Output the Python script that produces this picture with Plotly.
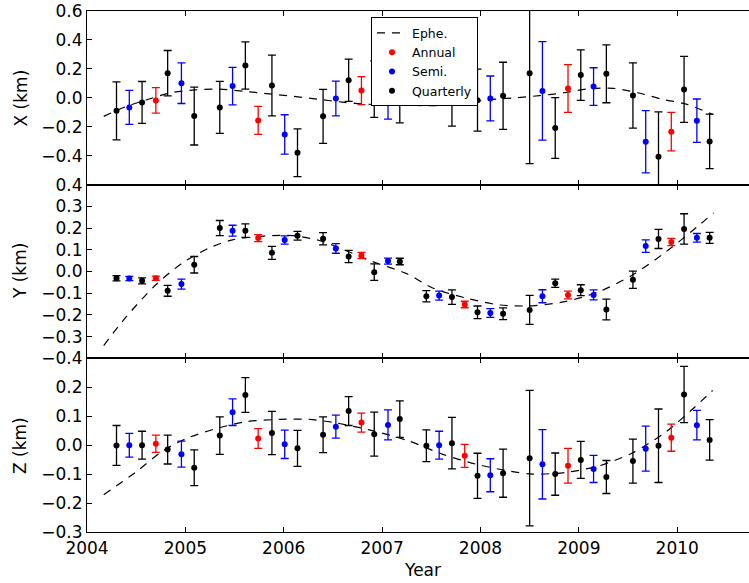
import plotly.graph_objects as go
from plotly.subplots import make_subplots

# ---------------- data ----------------
q_t = [2004.30, 2004.56, 2004.82, 2005.09, 2005.35, 2005.61, 2005.88, 2006.14,
       2006.40, 2006.66, 2006.92, 2007.18, 2007.45, 2007.71, 2007.97, 2008.23,
       2008.50, 2008.76, 2009.02, 2009.28, 2009.55, 2009.81, 2010.07, 2010.33]
s_t = [2004.43, 2004.96, 2005.48, 2006.01, 2006.53, 2007.06,
       2007.58, 2008.10, 2008.63, 2009.15, 2009.68, 2010.20]
a_t = [2004.70, 2005.74, 2006.79, 2007.84, 2008.89, 2009.94]

# X component (km)
x_q = [-0.090, -0.032, 0.170, -0.126, -0.066, 0.223, 0.085, -0.379,
       -0.128, 0.122, 0.060, 0.007, 0.190, 0.070, -0.016, 0.014,
       0.170, -0.209, 0.157, 0.166, 0.016, -0.407, 0.058, -0.301]
x_q_err = [0.200, 0.145, 0.157, 0.200, 0.180, 0.163, 0.210, 0.165,
           0.187, 0.146, 0.195, 0.180, 0.170, 0.265, 0.214, 0.232,
           0.625, 0.210, 0.175, 0.200, 0.225, 0.310, 0.228, 0.188]
x_s = [-0.066, 0.101, 0.081, -0.253, -0.004, -0.004,
       0.120, -0.004, 0.048, 0.078, -0.303, -0.158]
x_s_err = [0.117, 0.140, 0.130, 0.136, 0.120, 0.143,
           0.125, 0.155, 0.340, 0.130, 0.215, 0.150]
x_a = [-0.018, -0.156, 0.050, 0.100, 0.065, -0.234]
x_a_err = [0.088, 0.097, 0.097, 0.090, 0.165, 0.133]

# Y component (km)
y_q = [-0.031, -0.043, -0.089, 0.031, 0.200, 0.188, 0.086, 0.165,
       0.151, 0.069, -0.003, 0.046, -0.114, -0.118, -0.188, -0.195,
       -0.177, -0.054, -0.086, -0.175, -0.038, 0.150, 0.196, 0.155]
y_q_err = [0.012, 0.014, 0.025, 0.038, 0.035, 0.031, 0.030, 0.020,
           0.028, 0.028, 0.038, 0.015, 0.026, 0.033, 0.029, 0.027,
           0.067, 0.019, 0.025, 0.048, 0.040, 0.044, 0.070, 0.025]
y_s = [-0.032, -0.058, 0.188, 0.145, 0.106, 0.048,
       -0.111, -0.191, -0.114, -0.108, 0.117, 0.155]
y_s_err = [0.010, 0.023, 0.025, 0.019, 0.022, 0.014,
           0.021, 0.020, 0.030, 0.023, 0.029, 0.020]
y_a = [-0.031, 0.154, 0.074, -0.152, -0.108, 0.136]
y_a_err = [0.010, 0.016, 0.014, 0.015, 0.018, 0.017]

# Z component (km)
z_q = [-0.001, 0.000, -0.015, -0.078, 0.033, 0.173, 0.042, -0.011,
       0.036, 0.118, 0.038, 0.090, -0.002, 0.007, -0.106, -0.097,
       -0.045, -0.100, -0.051, -0.110, -0.055, -0.002, 0.175, 0.018]
z_q_err = [0.069, 0.048, 0.050, 0.062, 0.065, 0.060, 0.075, 0.062,
           0.062, 0.050, 0.076, 0.063, 0.055, 0.089, 0.078, 0.083,
           0.234, 0.073, 0.064, 0.057, 0.076, 0.127, 0.097, 0.070]
z_s = [0.000, -0.031, 0.114, 0.003, 0.064, 0.070,
       0.000, -0.104, -0.066, -0.082, -0.012, 0.069]
z_s_err = [0.041, 0.045, 0.046, 0.049, 0.040, 0.052,
           0.048, 0.057, 0.120, 0.047, 0.078, 0.051]
z_a = [0.005, 0.023, 0.078, -0.037, -0.071, 0.026]
z_a_err = [0.030, 0.034, 0.033, 0.040, 0.060, 0.047]

# Ephemeris curves
ex_t = [2004.17, 2004.40, 2004.60, 2004.85, 2005.10, 2005.35, 2005.60, 2005.85,
        2006.10, 2006.35, 2006.60, 2006.85, 2007.10, 2007.35, 2007.60, 2007.85,
        2008.10, 2008.35, 2008.60, 2008.85, 2009.10, 2009.35, 2009.60, 2009.85,
        2010.10, 2010.36]
ex_v = [-0.128, -0.060, -0.015, 0.035, 0.055, 0.060, 0.045, 0.028,
        0.010, -0.010, -0.030, -0.044, -0.050, -0.053, -0.053, -0.035,
        -0.012, 0.000, 0.015, 0.035, 0.062, 0.066, 0.035, -0.010,
        -0.045, -0.115]
ey_t = [2004.17, 2004.40, 2004.70, 2004.97, 2005.24, 2005.48, 2005.80, 2006.10,
        2006.36, 2006.63, 2006.90, 2007.25, 2007.52, 2007.86, 2008.19, 2008.53,
        2008.87, 2009.21, 2009.55, 2009.89, 2010.23, 2010.37]
ey_v = [-0.341, -0.208, -0.061, 0.039, 0.108, 0.146, 0.163, 0.165,
        0.143, 0.097, 0.046, -0.010, -0.077, -0.123, -0.154, -0.158,
        -0.138, -0.092, -0.015, 0.092, 0.216, 0.270]
ez_t = [2004.17, 2004.50, 2004.77, 2005.01, 2005.31, 2005.62, 2005.96, 2006.26,
        2006.53, 2006.87, 2007.26, 2007.62, 2007.96, 2008.30, 2008.53, 2008.87,
        2009.21, 2009.55, 2009.89, 2010.16, 2010.36]
ez_v = [-0.171, -0.092, -0.020, 0.023, 0.057, 0.081, 0.089, 0.089,
        0.077, 0.053, 0.016, -0.032, -0.066, -0.090, -0.100, -0.094,
        -0.071, -0.026, 0.047, 0.126, 0.189]

x_ticks = [2004, 2005, 2006, 2007, 2008, 2009, 2010]
x_tick_text = ["2004", "2005", "2006", "2007", "2008", "2009", "2010"]
panel_titles = ["X (km)", "Y (km)", "Z (km)"]
yticks = [
    [0.6, 0.4, 0.2, 0.0, -0.2, -0.4, -0.6],
    [0.4, 0.3, 0.2, 0.1, 0.0, -0.1, -0.2, -0.3, -0.4],
    [0.3, 0.2, 0.1, 0.0, -0.1, -0.2, -0.3],
]
ytick_text = [
    ["0.6", "0.4", "0.2", "0.0", "−0.2", "−0.4", ""],
    ["0.4", "0.3", "0.2", "0.1", "0.0", "−0.1", "−0.2", "−0.3", "−0.4"],
    ["", "0.2", "0.1", "0.0", "−0.1", "−0.2", "−0.3"],
]
yranges = [[-0.6, 0.6], [-0.4, 0.4], [-0.3, 0.3]]

# ---------------- figure ----------------
FONT = "DejaVu Sans"
fig = make_subplots(rows=3, cols=1, shared_xaxes=True, vertical_spacing=0)

panels = [
    (ex_t, ex_v, x_a, x_a_err, x_s, x_s_err, x_q, x_q_err),
    (ey_t, ey_v, y_a, y_a_err, y_s, y_s_err, y_q, y_q_err),
    (ez_t, ez_v, z_a, z_a_err, z_s, z_s_err, z_q, z_q_err),
]

for i, (et, ev, av, ae, sv, se, qv, qe) in enumerate(panels):
    row = i + 1
    first = (i == 0)
    fig.add_trace(go.Scatter(
        x=et, y=ev, mode="lines", name="Ephe.", showlegend=first,
        line=dict(color="black", width=1.2, dash="8px,7px", shape="spline", smoothing=0.8),
    ), row=row, col=1)
    for name, tt, vv, ee, col in [("Annual", a_t, av, ae, "#ff0000"),
                                  ("Semi.", s_t, sv, se, "#0000ff"),
                                  ("Quarterly", q_t, qv, qe, "#000000")]:
        fig.add_trace(go.Scatter(
            x=tt, y=vv, mode="markers", name=name, showlegend=first,
            marker=dict(color=col, size=6, symbol="circle"),
            error_y=dict(type="data", array=ee, visible=True, color=col,
                         thickness=1.3, width=4),
        ), row=row, col=1)

axis_common = dict(
    showline=True, linecolor="black", linewidth=1.2,
    ticks="inside", ticklen=5, tickwidth=1, tickcolor="black",
    showgrid=False, zeroline=False, automargin=False,
    tickfont=dict(family=FONT, size=17, color="black"),
)

for i in range(3):
    row = i + 1
    fig.update_yaxes(
        range=yranges[i], tickmode="array", tickvals=yticks[i], ticktext=ytick_text[i],
        mirror=False, **axis_common, row=row, col=1)
    fig.update_xaxes(
        range=[2004, 2010.73], tickmode="array", tickvals=x_ticks, ticktext=x_tick_text,
        mirror="ticks", **axis_common, row=row, col=1)

L, R, T, B = 87, 0, 11, 51
W, H = 749, 583
pw = W - L - R
ph = H - T - B

annotations = []
centers = [(11 + 184.5) / 2, (184.5 + 358.3) / 2, (358.3 + 532.3) / 2]
for title, cy in zip(panel_titles, centers):
    annotations.append(dict(
        text=title, xref="paper", yref="paper",
        x=(20.7 - L) / pw, y=(H - B - cy) / ph,
        xanchor="center", yanchor="middle", textangle=-90, showarrow=False,
        font=dict(family=FONT, size=17, color="black"),
    ))
annotations.append(dict(
    text="Year", xref="paper", yref="paper",
    x=(422.5 - L) / pw, y=(H - B - 570) / ph,
    xanchor="center", yanchor="middle", showarrow=False,
    font=dict(family=FONT, size=17, color="black"),
))

fig.update_layout(
    width=W, height=H,
    margin=dict(l=L, r=R, t=T, b=B, autoexpand=False),
    paper_bgcolor="white", plot_bgcolor="white",
    font=dict(family=FONT, size=12.5, color="black"),
    annotations=annotations,
    legend=dict(
        x=(371 - L) / pw, y=1 - (17.3 - T) / ph, xanchor="left", yanchor="top",
        bgcolor="white", bordercolor="black", borderwidth=1,
        font=dict(family=FONT, size=12.5, color="black"),
        tracegroupgap=0, itemwidth=30,
    ),
)

fig.write_html("out.html",
               config={"displayModeBar": False},
               post_script="document.body.style.margin='0';document.body.style.overflow='hidden';")
